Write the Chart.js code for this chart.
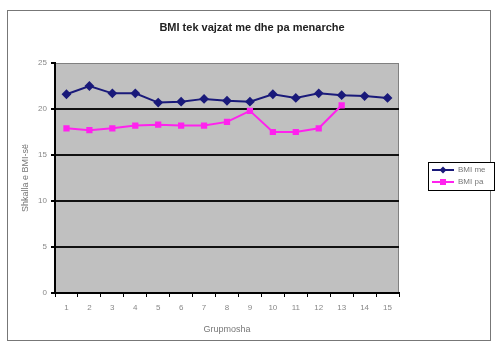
<!DOCTYPE html>
<html>
<head>
<meta charset="utf-8">
<script src="https://cdn.jsdelivr.net/npm/chart.js@4.4.1/dist/chart.umd.min.js"></script>
<style>
  html, body { margin: 0; padding: 0; background: #fff; }
  #wrap { width: 499px; height: 347px; }
</style>
</head>
<body>
<div id="wrap"><canvas id="myChart" width="499" height="347"></canvas></div>
<script>
const grupmosha = ["1", "2", "3", "4", "5", "6", "7", "8", "9", "10", "11", "12", "13", "14", "15"];
const bmiMe = [21.6, 22.5, 21.7, 21.7, 20.7, 20.8, 21.1, 20.9, 20.8, 21.6, 21.2, 21.7, 21.5, 21.4, 21.2];
const bmiPa = [17.9, 17.7, 17.9, 18.2, 18.3, 18.2, 18.2, 18.6, 19.8, 17.5, 17.5, 17.9, 20.4, null, null];
const yTicks = [0, 5, 10, 15, 20, 25];
const titulli = "BMI tek vajzat me dhe pa menarche";

const FONT = "'Liberation Sans', Arial, sans-serif";

// frame, title, gray plot area and the small legend box on the right
const excelLook = {
  id: "excelLook",
  beforeDraw(chart) {
    const ctx = chart.ctx, a = chart.chartArea;
    ctx.save();
    ctx.fillStyle = "#fff";
    ctx.fillRect(0, 0, chart.width, chart.height);
    ctx.strokeStyle = "#777";
    ctx.lineWidth = 1;
    ctx.strokeRect(7.5, 10.5, 483, 330);
    ctx.fillStyle = "#c0c0c0";
    ctx.fillRect(a.left, a.top, a.right - a.left, a.bottom - a.top);
    ctx.strokeStyle = "#808080";
    ctx.strokeRect(a.left + 0.5, a.top + 0.5, a.right - a.left - 1, a.bottom - a.top - 1);
    ctx.fillStyle = "#222";
    ctx.font = "bold 11px " + FONT;
    ctx.textAlign = "center";
    ctx.textBaseline = "middle";
    ctx.fillText(titulli, 252, 28);
    ctx.restore();
  },
  afterDraw(chart) {
    const ctx = chart.ctx;
    const bx = 428, by = 162, bw = 66, bh = 28;
    ctx.save();
    ctx.fillStyle = "#fff";
    ctx.fillRect(bx, by, bw, bh);
    ctx.strokeStyle = "#000";
    ctx.lineWidth = 1;
    ctx.strokeRect(bx + 0.5, by + 0.5, bw, bh);
    chart.data.datasets.forEach((ds, i) => {
      const y = by + 8 + i * 12;
      ctx.strokeStyle = ds.borderColor;
      ctx.lineWidth = 2;
      ctx.beginPath();
      ctx.moveTo(bx + 4, y);
      ctx.lineTo(bx + 26, y);
      ctx.stroke();
      ctx.fillStyle = ds.borderColor;
      ctx.beginPath();
      if (ds.pointStyle === "rectRot") {
        ctx.moveTo(bx + 15, y - 3.5);
        ctx.lineTo(bx + 18.5, y);
        ctx.lineTo(bx + 15, y + 3.5);
        ctx.lineTo(bx + 11.5, y);
        ctx.closePath();
      } else {
        ctx.rect(bx + 12, y - 3, 6, 6);
      }
      ctx.fill();
      ctx.fillStyle = "#777";
      ctx.font = "8px " + FONT;
      ctx.textBaseline = "middle";
      ctx.fillText(ds.label, bx + 30, y);
    });
    ctx.restore();
  }
};

new Chart("myChart", {
  type: "line",
  data: {
    labels: grupmosha,
    datasets: [{
      label: "BMI me",
      data: bmiMe,
      borderColor: "#1a1a7a",
      backgroundColor: "#1a1a7a",
      borderWidth: 2,
      pointStyle: "rectRot",
      pointRadius: 3.5,
      fill: false
    }, {
      label: "BMI pa",
      data: bmiPa,
      borderColor: "#ff22ee",
      backgroundColor: "#ff22ee",
      borderWidth: 2,
      pointStyle: "rect",
      pointRadius: 3,
      fill: false
    }]
  },
  options: {
    responsive: false,
    animation: false,
    layout: { padding: { left: 20, right: 100, top: 63, bottom: 12 } },
    plugins: {
      legend: { display: false },
      tooltip: { enabled: false },
      title: { display: false }
    },
    scales: {
      x: {
        offset: true,
        grid: {
          offset: true,
          drawOnChartArea: false,
          drawTicks: true,
          tickLength: 4,
          tickColor: "#000"
        },
        border: { color: "#000", width: 2 },
        ticks: { color: "#888", font: { family: FONT, size: 8 }, padding: 6, maxRotation: 0, autoSkip: false },
        title: { display: true, text: "Grupmosha", color: "#777", font: { family: FONT, size: 9 }, padding: { top: 4, bottom: 0 } },
        afterFit(scale) { scale.height = 42; }
      },
      y: {
        min: 0,
        max: 25,
        afterBuildTicks(scale) { scale.ticks = yTicks.map(v => ({ value: v })); },
        grid: {
          color: ctx => (ctx.tick && (ctx.tick.value === 0 || ctx.tick.value === 25)) ? "rgba(0,0,0,0)" : "#111",
          lineWidth: 2,
          drawTicks: true,
          tickLength: 4,
          tickColor: "#000"
        },
        border: { color: "#000", width: 2 },
        ticks: { color: "#888", font: { family: FONT, size: 8 }, padding: 4 },
        title: { display: true, text: "Shkalla e BMI-së", color: "#777", font: { family: FONT, size: 9 }, padding: { top: 0, bottom: 4 } },
        afterFit(scale) { scale.width = 35; }
      }
    }
  },
  plugins: [excelLook]
});
</script>
</body>
</html>
